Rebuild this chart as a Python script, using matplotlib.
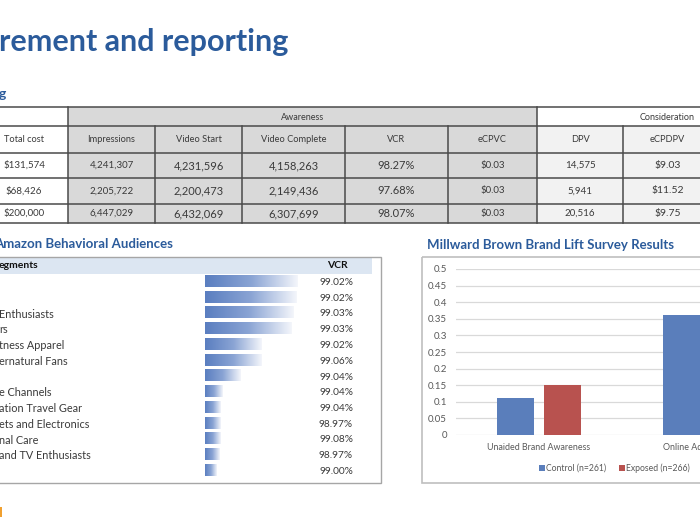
import matplotlib
matplotlib.use('Agg')
import matplotlib.pyplot as plt
import numpy as np
from matplotlib.patches import Rectangle
from matplotlib.colors import LinearSegmentedColormap

plt.rcParams['font.family'] = ['Lato', 'DejaVu Sans']

# ---------------- data ----------------
table_headers = ['Total cost', 'Impressions', 'Video Start', 'Video Complete', 'VCR', 'eCPVC', 'DPV', 'eCPDPV']
total_cost = ['$131,574', '$68,426', '$200,000']
impressions = [4241307, 2205722, 6447029]
video_start = [4231596, 2200473, 6432069]
video_complete = [4158263, 2149436, 6307699]
vcr_table = [98.27, 97.68, 98.07]
ecpvc = [0.03, 0.03, 0.03]
dpv = [14575, 5941, 20516]
ecpdpv = [9.03, 11.52, 9.75]

segment_labels = ['', '', 'Enthusiasts', 'rs', 'tness Apparel', 'ernatural Fans', '',
                  'e Channels', 'ation Travel Gear', 'ets and Electronics', 'nal Care',
                  'and TV Enthusiasts', '']
segment_vcr = [99.02, 99.02, 99.03, 99.03, 99.02, 99.06, 99.04, 99.04, 99.04, 98.97, 99.08, 98.97, 99.00]
segment_bar = [93, 92, 89, 87, 57, 57, 36, 18, 16, 16, 16, 15, 12]

lift_categories = ['Unaided Brand Awareness', 'Online Ad Awareness']
lift_series = ['Control (n=261)', 'Exposed (n=266)']
lift_control = [0.11, 0.36]
lift_exposed = [0.15, 0.41]
lift_ticks = [0, 0.05, 0.1, 0.15, 0.2, 0.25, 0.3, 0.35, 0.4, 0.45, 0.5]

# ---------------- layout ----------------
W, H = 700, 525
fig = plt.figure(figsize=(7, 5.25), dpi=100)
fig.patch.set_facecolor('white')

ov = fig.add_axes([0, 0, 1, 1])
ov.set_xlim(0, W)
ov.set_ylim(H, 0)
ov.axis('off')

TITLE_BLUE = '#2B5B9B'
TXT = '#3A3A3A'

ov.text(-1, 42, 'rement and reporting', fontsize=22, fontweight='bold',
        color=TITLE_BLUE, ha='left', va='center')
ov.text(-1, 94, 'g', fontsize=10, fontweight='bold', color=TITLE_BLUE, ha='left', va='center')

# ---------------- table ----------------
col_edges = [-20, 68, 155, 242, 345, 448, 537, 623, 712]
row_edges = [107, 126, 153, 178, 204, 223]
GRAY = '#D9D9D9'
LIGHT = '#F2F2F2'
LINE = '#4A4A4A'

ov.add_patch(Rectangle((col_edges[1], row_edges[0]), col_edges[6] - col_edges[1],
                       row_edges[-1] - row_edges[0], facecolor=GRAY, edgecolor='none'))
ov.add_patch(Rectangle((col_edges[6], row_edges[1]), col_edges[8] - col_edges[6],
                       row_edges[-1] - row_edges[1], facecolor=LIGHT, edgecolor='none'))
for y in row_edges:
    ov.plot([col_edges[0], col_edges[-1]], [y, y], color=LINE, lw=1.1, solid_capstyle='butt')
for i, x in enumerate(col_edges):
    if x in (col_edges[1], col_edges[6]):
        ov.plot([x, x], [row_edges[0], row_edges[-1]], color=LINE, lw=1.1)
    else:
        ov.plot([x, x], [row_edges[1], row_edges[-1]], color=LINE, lw=1.1)

ov.text((col_edges[1] + col_edges[6]) / 2, (row_edges[0] + row_edges[1]) / 2 + 1, 'Awareness',
        fontsize=6.5, color=TXT, ha='center', va='center')
ov.text(667, (row_edges[0] + row_edges[1]) / 2 + 1, 'Consideration',
        fontsize=6.5, color=TXT, ha='center', va='center')

hdr_y = (row_edges[1] + row_edges[2]) / 2
for j, h in enumerate(table_headers):
    ov.text((col_edges[j] + col_edges[j + 1]) / 2, hdr_y, h, fontsize=6.7, color=TXT,
            ha='center', va='center')

columns = [
    (total_cost, 7.0),
    (['{:,}'.format(v) for v in impressions], 7.0),
    (['{:,}'.format(v) for v in video_start], 8.0),
    (['{:,}'.format(v) for v in video_complete], 8.0),
    (['{:.2f}%'.format(v) for v in vcr_table], 8.0),
    (['${:.2f}'.format(v) for v in ecpvc], 7.0),
    (['{:,}'.format(v) for v in dpv], 7.0),
    (['${:.2f}'.format(v) for v in ecpdpv], 7.5),
]
for j, (vals, fs) in enumerate(columns):
    cx = (col_edges[j] + col_edges[j + 1]) / 2
    for r, v in enumerate(vals):
        cy = (row_edges[r + 2] + row_edges[r + 3]) / 2
        ov.text(cx, cy, v, fontsize=fs, color=TXT, ha='center', va='center')

# ---------------- left panel: segments ----------------
ov.text(-6, 244, 'Amazon Behavioral Audiences', fontsize=9.5, fontweight='bold',
        color=TITLE_BLUE, ha='left', va='center')
ov.add_patch(Rectangle((-5, 258), 377, 16, facecolor='#DCE6F2', edgecolor='none'))
ov.add_patch(Rectangle((-5, 257), 386, 226, facecolor='none', edgecolor='#A6A6A6', lw=1.0))
ov.text(-1, 266, 'egments', fontsize=7.5, fontweight='bold', color='#111111', ha='left', va='center')
ov.text(337, 266, 'VCR', fontsize=7.5, fontweight='bold', color='#111111', ha='center', va='center')

row0, pitch = 282, 15.75
for i, (lab, v) in enumerate(zip(segment_labels, segment_vcr)):
    y = row0 + i * pitch
    ov.text(-1, y + 0.5, lab, fontsize=7.8, color=TXT, ha='left', va='center')
    ov.text(353, y + 0.5, '{:.2f}%'.format(v), fontsize=7.3, color=TXT, ha='right', va='center')

n = len(segment_bar)
top_px = 281 - pitch / 2
bot_px = 281 + (n - 0.5) * pitch
axb = fig.add_axes([205 / W, (H - bot_px) / H, 100 / W, (bot_px - top_px) / H])
axb.patch.set_alpha(0)
bars = axb.barh(range(n), segment_bar, height=0.76, color='none', edgecolor='none')
cmap = LinearSegmentedColormap.from_list('db', ['#5A7EC0', '#8AA4D4', '#F4F6FB'])
grad = np.linspace(0, 1, 256).reshape(1, -1)
for b in bars:
    x0, y0, w, h = b.get_x(), b.get_y(), b.get_width(), b.get_height()
    axb.imshow(grad, extent=[x0, x0 + w, y0 + h, y0], aspect='auto', cmap=cmap,
               interpolation='bilinear')
axb.set_xlim(0, 100)
axb.set_ylim(n - 0.5, -0.5)
axb.axis('off')

# ---------------- right panel: brand lift ----------------
ov.text(427, 245, 'Millward Brown Brand Lift Survey Results', fontsize=9.5, fontweight='bold',
        color=TITLE_BLUE, ha='left', va='center')
ov.add_patch(Rectangle((422, 257), 300, 226, facecolor='none', edgecolor='#BFBFBF', lw=1.2))

C_BLUE = '#5A7EBB'
C_RED = '#B8524F'
axc = fig.add_axes([456 / W, (H - 435) / H, 332 / W, 166 / H])
axc.patch.set_alpha(0)
x = np.arange(len(lift_categories))
bw, off = 0.223, 0.143
axc.bar(x - off, lift_control, width=bw, color=C_BLUE, zorder=3)
axc.bar(x + off, lift_exposed, width=bw, color=C_RED, zorder=3)
axc.set_xlim(-0.5, 1.5)
axc.set_ylim(0, 0.5)
axc.set_yticks(lift_ticks)
axc.set_yticklabels(['{:g}'.format(t) for t in lift_ticks])
axc.set_xticks(x)
axc.set_xticklabels(lift_categories)
axc.grid(axis='y', color='#D9D9D9', lw=0.9, zorder=0)
for s in axc.spines.values():
    s.set_visible(False)
axc.tick_params(axis='y', length=0, labelsize=7, labelcolor='#595959', pad=6.5)
axc.tick_params(axis='x', length=0, labelsize=6.4, labelcolor='#595959', pad=5.5)

# legend
for k, (name, col, xs) in enumerate(zip(lift_series, [C_BLUE, C_RED], [539, 619])):
    ov.add_patch(Rectangle((xs, 465), 5.5, 5.5, facecolor=col, edgecolor='none'))
    ov.text(xs + 6.5, 468, name, fontsize=6.2, color='#595959', ha='left', va='center')

# small orange mark bottom-left
ov.add_patch(Rectangle((0, 507), 1.5, 10, facecolor='#F0A030', edgecolor='none'))

fig.savefig('out.png', dpi=100, facecolor='white')
